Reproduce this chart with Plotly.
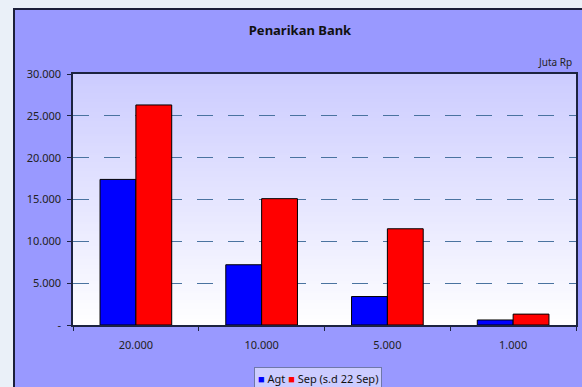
import plotly.graph_objects as go

# Bank withdrawals by denomination (million Rp)
denominations = ["20.000", "10.000", "5.000", "1.000"]
agt_values = [17400, 7200, 3400, 600]
sep_values = [26300, 15100, 11500, 1300]
series_names = ["Agt", "Sep (s.d 22 Sep)"]
series_colors = ["#0000ff", "#ff0000"]
y_ticks = [0, 5000, 10000, 15000, 20000, 25000, 30000]
y_tick_labels = ["-" if v == 0 else f"{v:,}".replace(",", ".") for v in y_ticks]

FONT = "Noto Sans"
W, H = 582, 387
L, R, T, B = 73, 6, 74, 62
plot_h = H - T - B
plot_w = W - L - R


def px_to_paper_x(px):
    return (px - L) / plot_w


def px_to_paper_y(py):
    return (H - B - py) / plot_h


fig = go.Figure()
for name, vals, col in zip(series_names, [agt_values, sep_values], series_colors):
    fig.add_trace(go.Bar(x=denominations, y=vals, name=name, showlegend=False,
                         marker=dict(color=col, line=dict(color="#000000", width=1))))

shapes = []
# chart frame
shapes.append(dict(type="rect", xref="paper", yref="paper", layer="below",
                   x0=px_to_paper_x(14), x1=px_to_paper_x(W + 10),
                   y0=px_to_paper_y(H + 10), y1=px_to_paper_y(9),
                   fillcolor="#9999ff", line=dict(color="#1c1f3a", width=2)))
# plot area vertical gradient: lavender at the top fading to white at the bottom.
# Nested rectangles anchored at the bottom so no seams show between bands.
n = 80
top_rgb = (0xcc, 0xcc, 0xff)
for i in range(n, 0, -1):
    t = i / n
    r = round(255 + (top_rgb[0] - 255) * t)
    g = round(255 + (top_rgb[1] - 255) * t)
    shapes.append(dict(type="rect", xref="paper", yref="paper", layer="below",
                       x0=0, x1=1, y0=0, y1=t,
                       fillcolor=f"rgb({r},{g},255)", line=dict(width=0)))

# compact legend box
legend_text = " ".join(
    f"<span style='color:{c}'>■</span> {n}" for n, c in zip(series_names, series_colors)
)

fig.update_layout(
    width=W, height=H,
    margin=dict(l=L, r=R, t=T, b=B, autoexpand=False),
    paper_bgcolor="#eaf0f8",
    plot_bgcolor="rgba(0,0,0,0)",
    font=dict(family=FONT, size=11, color="#222222"),
    barmode="group",
    bargap=0.43,
    bargroupgap=0,
    showlegend=False,
    shapes=shapes,
    title=dict(text="<b>Penarikan Bank</b>", x=300 / W,
               xanchor="center", y=1 - 30 / H, yanchor="middle",
               font=dict(family=FONT, size=13, color="#111111")),
    annotations=[
        dict(text="Juta Rp", xref="paper", yref="paper",
             x=px_to_paper_x(574), y=px_to_paper_y(62),
             xanchor="right", yanchor="middle", showarrow=False,
             font=dict(family=FONT, size=10, color="#222222")),
        dict(text=legend_text, xref="paper", yref="paper",
             x=px_to_paper_x(318), y=px_to_paper_y(367),
             xanchor="center", yanchor="top", showarrow=False,
             bgcolor="#ccccff", bordercolor="#6f78a8", borderwidth=1, borderpad=3,
             font=dict(family=FONT, size=11, color="#111111")),
    ],
    xaxis=dict(showline=True, linecolor="#1c2340", linewidth=1.5, mirror=True,
               ticks="outside", ticklen=4, tickcolor="#1c2340", tickson="boundaries",
               ticklabelstandoff=9,
               showgrid=False, tickfont=dict(size=11)),
    yaxis=dict(range=[0, 30000], tickvals=y_ticks, ticktext=y_tick_labels,
               showline=True, linecolor="#1c2340", linewidth=1.5, mirror=True,
               ticks="outside", ticklen=4, tickcolor="#1c2340", ticklabelstandoff=4,
               showgrid=True, gridcolor="#4a73a0", gridwidth=1, griddash="16px,15px",
               zeroline=False, tickfont=dict(size=11)),
)

fig.write_html("out.html")
